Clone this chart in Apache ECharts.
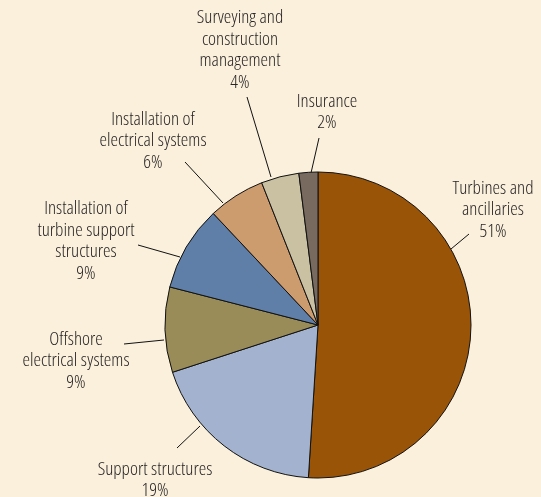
<!DOCTYPE html>
<html><head><meta charset="utf-8">
<script src="https://cdn.jsdelivr.net/npm/echarts@6/dist/echarts.min.js"></script>
<style>html,body{margin:0;padding:0;background:#FAF0DC;} #c{width:541px;height:497px;}</style>
</head><body><div id="c"></div>
<script>
const categories = [
  'Turbines and\nancillaries',
  'Support structures',
  'Offshore\nelectrical systems',
  'Installation of\nturbine support\nstructures',
  'Installation of\nelectrical systems',
  'Surveying and\nconstruction\nmanagement',
  'Insurance'
];
const shares = [51, 19, 9, 9, 6, 4, 2];
const colors = ['#9A5408', '#A3B3CF', '#9A8C58', '#5F7FA8', '#CD9C6E', '#CAC1A2', '#786A5E'];
// layout only: label block centres and leader-line ends (pie side, label side)
const labelCenters = [[493, 210], [155, 480], [76, 361], [86, 241], [153, 141], [240, 50], [327, 112]];
const leaderLines = [
  [[451, 249], [469, 234]],
  [[200, 426], [177, 448]],
  [[164, 340], [124, 344]],
  [[180, 257], [138, 245]],
  [[223, 203], [185, 162]],
  [[271, 177], [247, 97]],
  [[311, 173], [319, 138]]
];

const chart = echarts.init(document.getElementById('c'), null, {renderer: 'canvas'});
chart.setOption({
  backgroundColor: '#FAF0DC',
  animation: false,
  series: [{
    type: 'pie',
    center: [318, 325],
    radius: 153,
    startAngle: 90,
    clockwise: true,
    data: categories.map((n, i) => ({name: n, value: shares[i], itemStyle: {color: colors[i]}})),
    itemStyle: {borderColor: '#111', borderWidth: 1},
    label: {
      show: true,
      formatter: p => p.name + '\n' + p.value + '%',
      fontFamily: '"Open Sans", sans-serif',
      fontWeight: '300 condensed',
      fontSize: 19,
      lineHeight: 21.5,
      color: '#2A2627',
      align: 'center',
      overflow: 'none'
    },
    labelLine: {show: true, length: 10, length2: 0, smooth: false, lineStyle: {color: '#111', width: 1}},
    labelLayout: p => ({
      x: labelCenters[p.dataIndex][0],
      y: labelCenters[p.dataIndex][1],
      align: 'center',
      verticalAlign: 'middle',
      labelLinePoints: leaderLines[p.dataIndex]
    }),
    emphasis: {disabled: true}
  }]
});
</script></body></html>
